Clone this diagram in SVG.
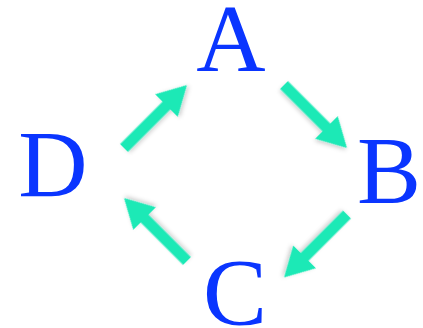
<svg xmlns="http://www.w3.org/2000/svg" xmlns:xlink="http://www.w3.org/1999/xlink" width="423" height="328" viewBox="0 0 423 328">
<style>
.lbl{font-family:"Liberation Serif","Times New Roman",serif;font-size:96px;fill:#0A35FF;text-anchor:middle}
.arr{fill:#1DE9B6;filter:url(#sh)}
</style>
<defs>
<filter id="sh" x="-30%" y="-30%" width="160%" height="160%">
<feDropShadow dx="1" dy="2" stdDeviation="2" flood-color="#000" flood-opacity="0.2"/>
</filter>
<path id="ar" d="M0,-5.5 L60,-5.5 L60,-16 L89,0 L60,16 L60,5.5 L0,5.5 Z"/>
</defs>
<rect width="423" height="328" fill="#fff"/>
<g id="connectors">
<use xlink:href="#ar" class="arr" transform="translate(284,85) rotate(45)"/>
<use xlink:href="#ar" class="arr" transform="translate(347,214.5) rotate(135)"/>
<use xlink:href="#ar" class="arr" transform="translate(187,261) rotate(225)"/>
<use xlink:href="#ar" class="arr" transform="translate(124,148) rotate(-45)"/>
</g>
<g id="A"><text class="lbl" x="231" y="71">A</text></g>
<g id="B"><text class="lbl" x="389" y="203">B</text></g>
<g id="C"><text class="lbl" x="235" y="325">C</text></g>
<g id="D"><text class="lbl" x="53" y="197">D</text></g>
</svg>
